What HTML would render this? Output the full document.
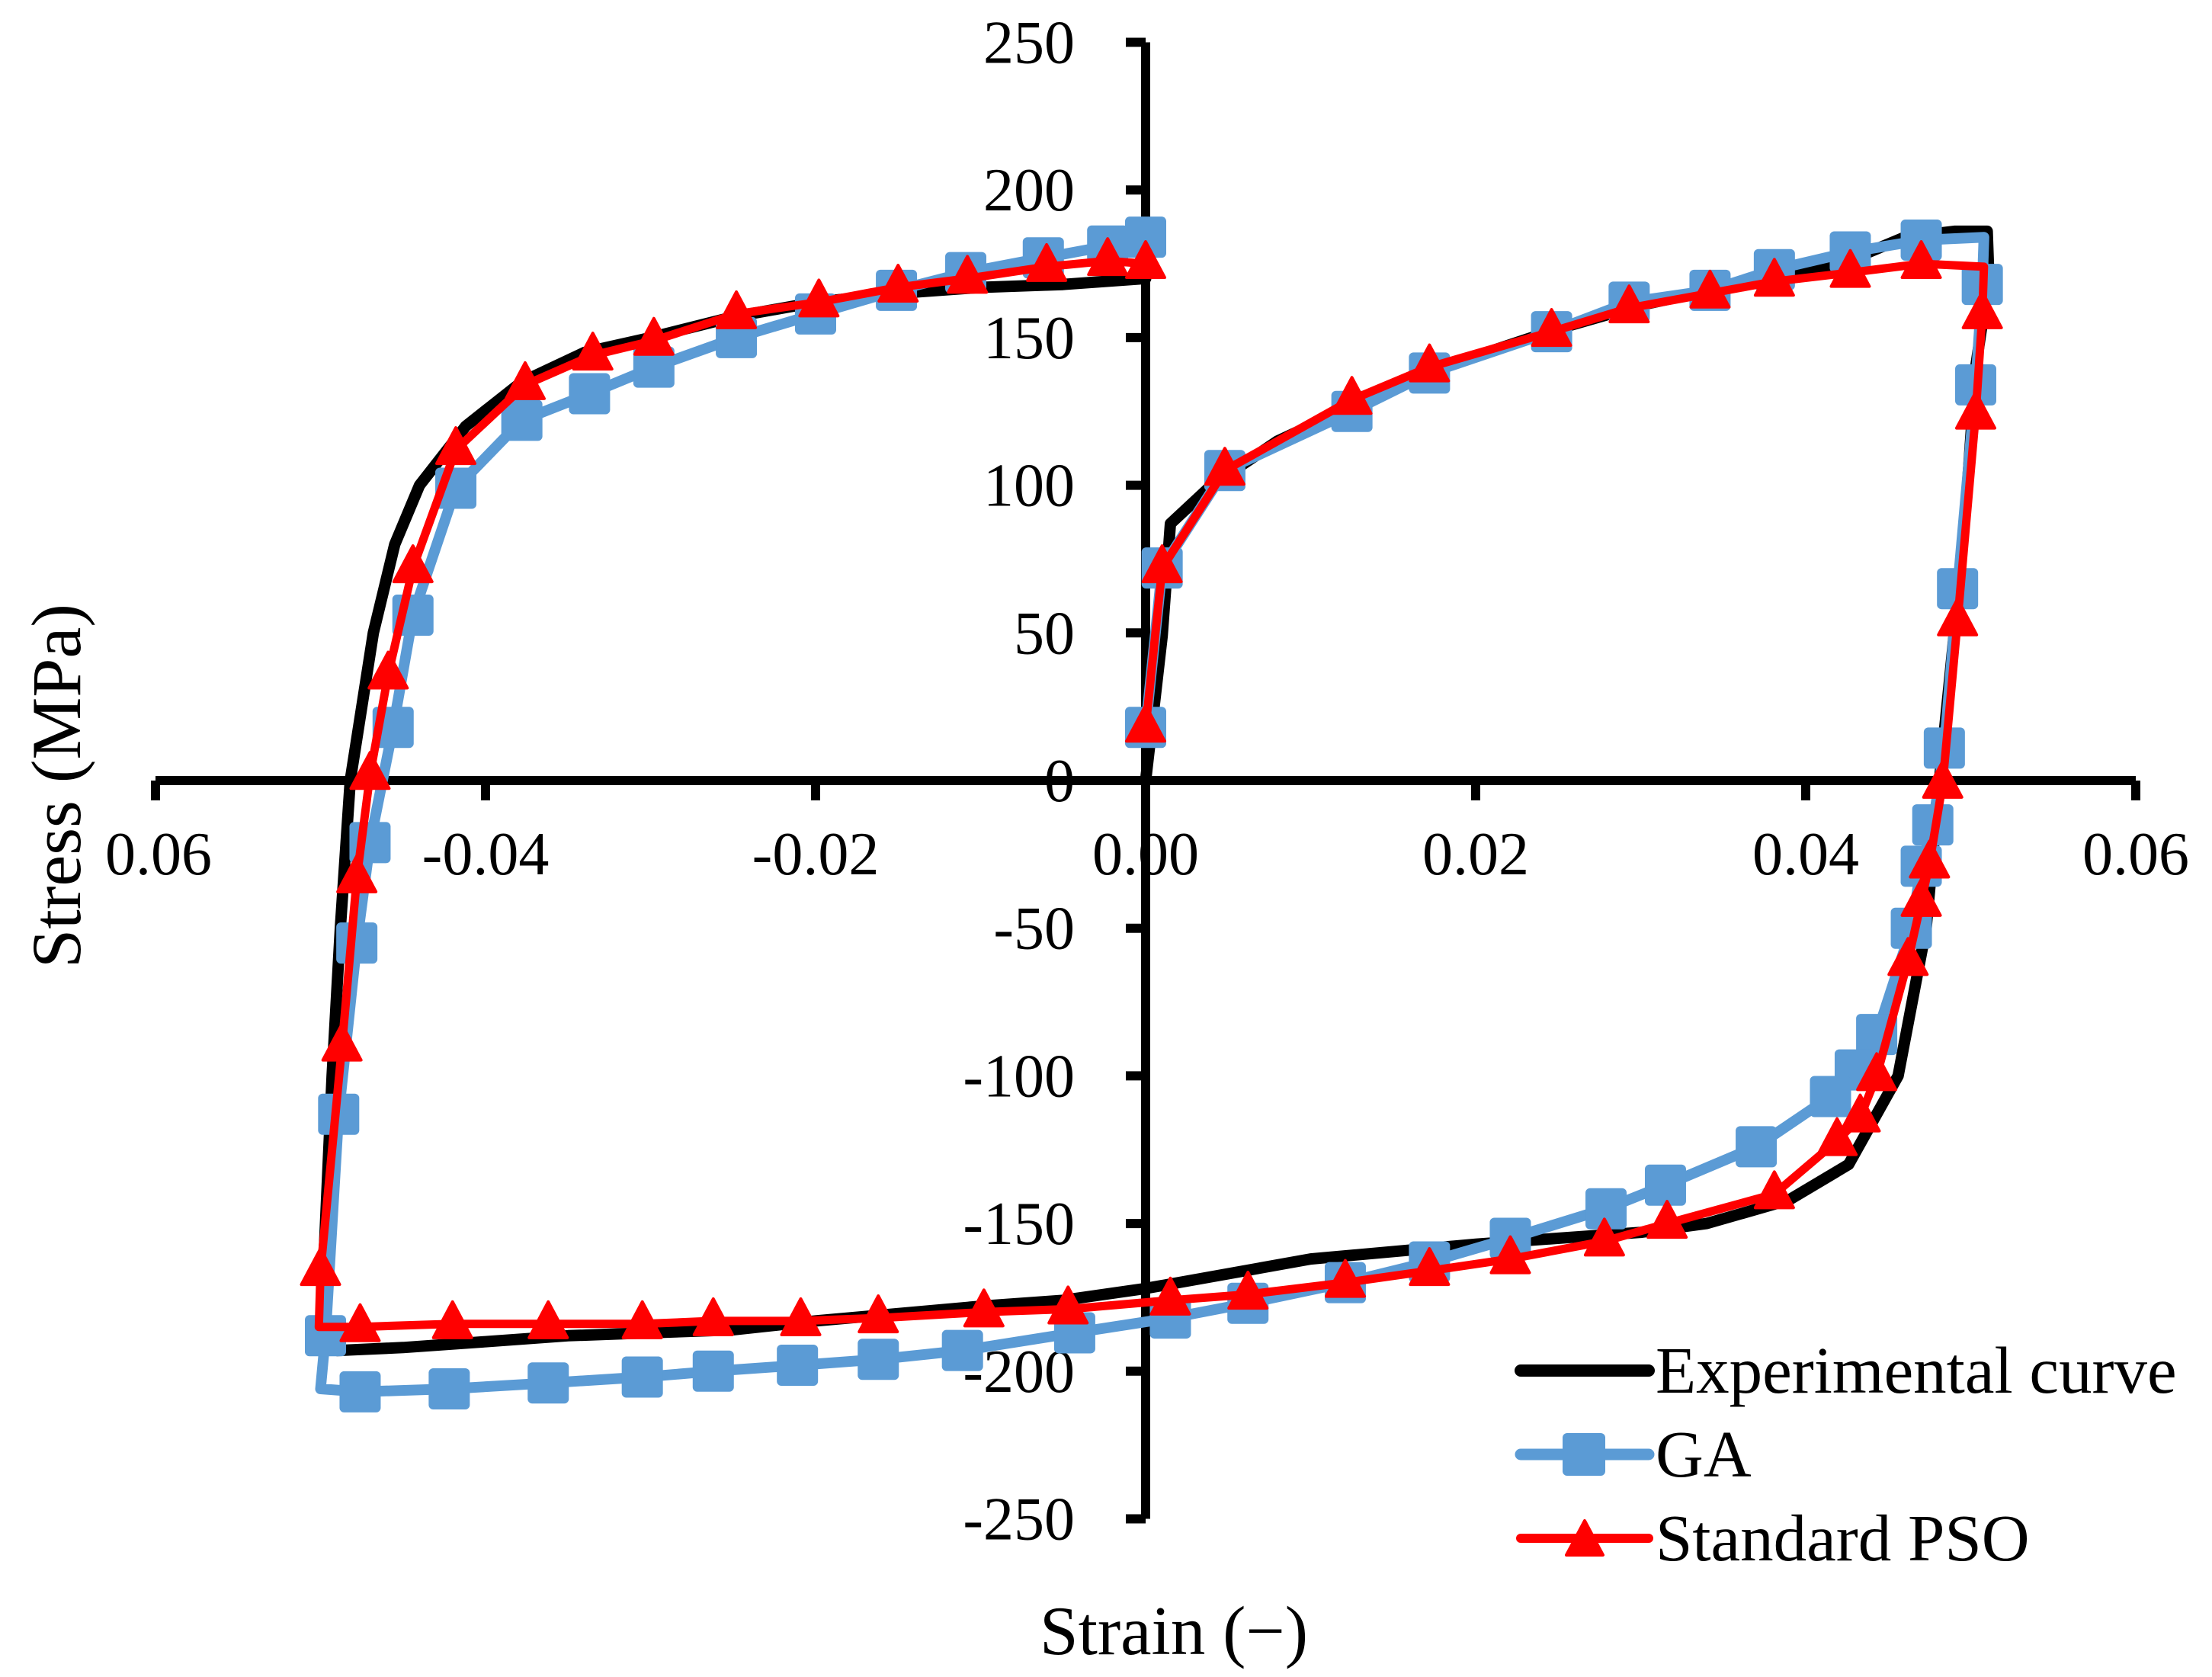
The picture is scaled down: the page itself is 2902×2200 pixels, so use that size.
<!DOCTYPE html>
<html><head><meta charset="utf-8"><style>
html,body{margin:0;padding:0;background:#fff;}
svg{display:block;}
text{font-family:"Liberation Serif",serif;fill:#000;}
</style></head><body>
<svg id="chart" width="2902" height="2200" viewBox="0 0 2902 2200" xmlns="http://www.w3.org/2000/svg">
<rect width="2902" height="2200" fill="#fff"/>
<g id="axes"></g>
<g id="series"></g>
<text x="75" y="1031" font-size="92" text-anchor="middle" transform="rotate(-90 75 1031)" dy="30">Stress (MPa)</text>
<text x="1540" y="2170" font-size="91" text-anchor="middle">Strain (−)</text>
<g>
  <g>
    <line x1="1995" y1="1798" x2="2163" y2="1798" stroke="#000" stroke-width="16" stroke-linecap="round"/>
    <text x="2172" y="1827" font-size="87">Experimental curve</text>
  </g>
  <g>
    <line x1="1995" y1="1908" x2="2163" y2="1908" stroke="#5b9bd5" stroke-width="15" stroke-linecap="round"/>
    <rect x="2050" y="1880" width="56" height="56" rx="6" fill="#5b9bd5"/>
    <text x="2172" y="1937" font-size="87">GA</text>
  </g>
  <g>
    <line x1="1995" y1="2018" x2="2163" y2="2018" stroke="#ff0000" stroke-width="12" stroke-linecap="round"/>
    <polygon points="2079,1995 2103,2040 2055,2040" fill="#ff0000" stroke="#ff0000" stroke-width="4" stroke-linejoin="round"/>
    <text x="2172" y="2047" font-size="87">Standard PSO</text>
  </g>
</g>
</svg>
<script>
const xTicks = [-0.06,-0.04,-0.02,0.00,0.02,0.04,0.06];
const xTickLabels = ["0.06","-0.04","-0.02","0.00","0.02","0.04","0.06"];
const yTicks = [250,200,150,100,50,0,-50,-100,-150,-200,-250];
const yTickLabels = ["250","200","150","100","50","0","-50","-100","-150","-200","-250"];

const expStrain = [0,0.001,0.0015,0.004,0.008,0.013,0.018,0.025,0.03,0.035,0.04,0.043,0.046,0.049,0.051,0.0511,0.0503,0.0498,0.049,0.0481,0.0473,0.0456,0.0426,0.039,0.034,0.03,0.02,0.01,0.005,0,-0.005,-0.01,-0.02,-0.025,-0.03,-0.035,-0.04,-0.045,-0.049,-0.0499,-0.0499,-0.0493,-0.0488,-0.0482,-0.0468,-0.0455,-0.044,-0.0412,-0.0378,-0.034,-0.03,-0.025,-0.02,-0.015,-0.01,-0.005,0];
const expStress = [0,49,87,100,115,128,140,153,161,167,172,177,184,186,186,170,140,100,50,0,-50,-100,-130,-142,-150,-153,-157,-162,-167,-172,-176,-178,-183,-186,-187,-188,-190,-192,-193,-191,-175,-100,-50,0,50,80,100,120,135,145,150,157,162,165,167,168,170];

const gaStrain = [0,0.001,0.0048,0.0125,0.0172,0.0246,0.0293,0.0342,0.0381,0.0427,0.047,0.0508,0.0507,0.0503,0.0492,0.0484,0.0477,0.047,0.0464,0.0443,0.043,0.0415,0.037,0.0315,0.0279,0.0221,0.0172,0.0121,0.0062,0.0015,-0.0043,-0.0111,-0.0162,-0.0211,-0.0262,-0.0305,-0.0362,-0.0422,-0.0476,-0.05,-0.0497,-0.0489,-0.0478,-0.047,-0.0456,-0.0444,-0.0418,-0.0378,-0.0337,-0.0298,-0.0248,-0.02,-0.0151,-0.0109,-0.0062,-0.0023,0];
const gaStress = [18,72,105,125,138,152,162,166,173,179,183,184,168,134,65,11,-15,-29,-50,-86,-98,-107,-124,-137,-145,-155,-163,-170,-177,-182,-187,-193,-196,-198,-200,-202,-204,-206,-207,-206,-188,-113,-55,-21,18,56,99,122,131,140,150,158,166,172,177,181,184];
const gaNoMarker = [11,39];

const psoStrain = [0,0.001,0.0048,0.0125,0.0172,0.0246,0.0293,0.0342,0.0381,0.0427,0.047,0.0508,0.0507,0.0503,0.0492,0.0483,0.0475,0.047,0.0462,0.0443,0.0433,0.0419,0.0381,0.0316,0.0278,0.0221,0.0172,0.0121,0.0062,0.0015,-0.0047,-0.0098,-0.0162,-0.0209,-0.0262,-0.0305,-0.0362,-0.042,-0.0476,-0.0501,-0.05,-0.0487,-0.0478,-0.047,-0.0459,-0.0444,-0.0418,-0.0376,-0.0335,-0.0298,-0.0248,-0.0198,-0.015,-0.0108,-0.006,-0.0023,0];
const psoStress = [18,72,105,129,140,152,160,165,169,172,175,174,158,124,54,-1,-28,-41,-61,-100,-114,-122,-140,-150,-156,-162,-166,-170,-174,-176,-179,-180,-182,-183,-183,-184,-184,-184,-185,-185,-166,-90,-33,2,36,72,112,134,144,149,158,162,167,170,174,176,175];
const psoNoMarker = [11,39];

const NS = "http://www.w3.org/2000/svg";
function X(v){ return 1503 + v*21650; }
function Y(v){ return 1024 - v*3.874; }
function mk(tag, attrs, parent){
  const el = document.createElementNS(NS, tag);
  for (const k in attrs) el.setAttribute(k, attrs[k]);
  parent.appendChild(el);
  return el;
}
const axes = document.getElementById('axes');
const series = document.getElementById('series');

let a = mk('line',{x1:X(-0.06),y1:Y(0),x2:X(0.06),y2:Y(0),stroke:'#000','stroke-width':12},axes);


a = mk('line',{x1:X(0),y1:Y(250),x2:X(0),y2:Y(-250),stroke:'#000','stroke-width':12},axes);



xTicks.forEach((t,i)=>{
  const tk = mk('line',{x1:X(t),y1:Y(0),x2:X(t),y2:Y(0)+26,stroke:'#000','stroke-width':12},axes);
  
  
  const lb = mk('text',{x:X(t)+(i===0?4:0),y:1147,'font-size':80,'text-anchor':'middle'},axes);
  lb.textContent = xTickLabels[i];
  
  
});
yTicks.forEach((t,i)=>{
  const tk = mk('line',{x1:X(0)-26,y1:Y(t),x2:X(0),y2:Y(t),stroke:'#000','stroke-width':12},axes);
  
  
  const lb = mk('text',{x:1410,y:Y(t)+27,'font-size':80,'text-anchor':'end'},axes);
  lb.textContent = yTickLabels[i];
  
  
});

function pts(xs, ys){ return xs.map((x,i)=>X(x).toFixed(1)+','+Y(ys[i]).toFixed(1)).join(' '); }

let l = mk('polyline',{points:pts(expStrain,expStress),fill:'none',stroke:'#000','stroke-width':15,'stroke-linejoin':'round','stroke-linecap':'round'},series);



l = mk('polyline',{points:pts(gaStrain,gaStress),fill:'none',stroke:'#5b9bd5','stroke-width':14,'stroke-linejoin':'round'},series);


gaStrain.forEach((x,i)=>{
  if (gaNoMarker.includes(i)) return;
  const m = mk('rect',{x:X(x)-27,y:Y(gaStress[i])-27,width:54,height:54,rx:6,fill:'#5b9bd5'},series);
  
  
});

l = mk('polyline',{points:pts(psoStrain,psoStress),fill:'none',stroke:'#ff0000','stroke-width':11,'stroke-linejoin':'round'},series);


psoStrain.forEach((x,i)=>{
  if (psoNoMarker.includes(i)) return;
  const cx = X(x), cy = Y(psoStress[i]);
  const m = mk('polygon',{points:`${cx},${cy-29} ${cx+25},${cy+18} ${cx-25},${cy+18}`,fill:'#ff0000','stroke':'#ff0000','stroke-width':4,'stroke-linejoin':'round'},series);
  
  
});
</script>
</body></html>
